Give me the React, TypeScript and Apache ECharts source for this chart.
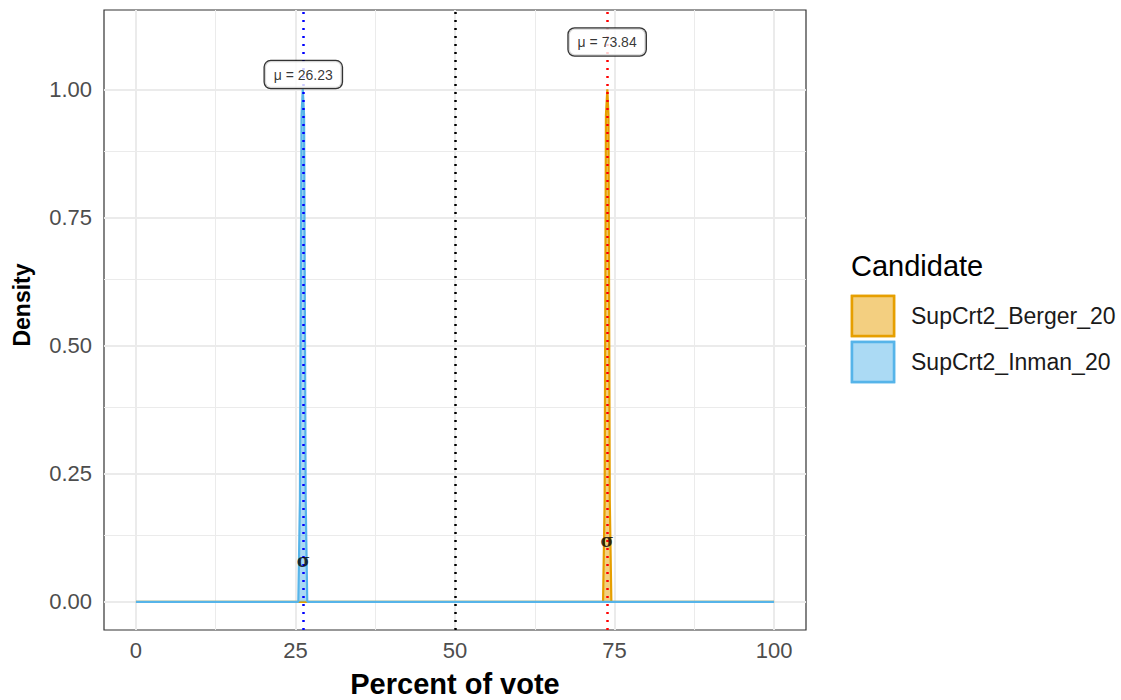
import React, { useEffect, useRef } from "react";
import * as echarts from "echarts";

// ---- data ----
const candidates = ["SupCrt2_Berger_20", "SupCrt2_Inman_20"];
const bergerX = [0, 73.2, 73.45, 73.65, 73.87, 74.05, 74.25, 74.5, 100];
const bergerY = [0, 0, 0.2, 0.95, 1.0, 0.95, 0.2, 0, 0];
const inmanX = [0, 25.45, 25.7, 25.95, 26.15, 26.35, 26.6, 26.85, 100];
const inmanY = [0, 0, 0.2, 0.95, 1.0, 0.95, 0.2, 0, 0];
const means = [73.84, 26.23];
const meanLabelY = [1.0925, 1.029];
const sigmaY = [0.12, 0.08];
const midLine = 50;
const xTicks = [0, 25, 50, 75, 100];
const xMinor = [12.5, 37.5, 62.5, 87.5];
const yTicks = [0, 0.25, 0.5, 0.75, 1.0];
const yMinor = [0.125, 0.375, 0.625, 0.875];

const FONT = '"Liberation Sans", Arial, Helvetica, sans-serif';
const lineColors = ["#E69F00", "#56B4E9"];
const meanColors = ["#ff0000", "#0000ff"];

export default function App() {
  const ref = useRef<HTMLDivElement>(null);
  useEffect(() => {
    if (!ref.current) return;
    const chart = echarts.init(ref.current, undefined, { renderer: "svg" });
    const toPairs = (xs: number[], ys: number[]) => xs.map((x, i) => [x, ys[i]]);
    const densities = [toPairs(bergerX, bergerY), toPairs(inmanX, inmanY)];

    const gridSeries: any = {
      type: "line",
      data: [],
      z: 1,
      silent: true,
      markLine: {
        z: 1,
        silent: true,
        symbol: "none",
        label: { show: false },
        animation: false,
        data: [
          ...xMinor.map((v) => ({ xAxis: v, lineStyle: { color: "#ebebeb", width: 1, type: "solid" } })),
          ...yMinor.map((v) => ({ yAxis: v, lineStyle: { color: "#ebebeb", width: 1, type: "solid" } })),
          ...xTicks.map((v) => ({ xAxis: v, lineStyle: { color: "#ebebeb", width: 2, type: "solid" } })),
          ...yTicks.map((v) => ({ yAxis: v, lineStyle: { color: "#ebebeb", width: 2, type: "solid" } })),
        ],
      },
    };

    const densitySeries = densities.map((d, i) => ({
      type: "line",
      name: candidates[i],
      data: d,
      z: 2 + i,
      showSymbol: false,
      symbol: "none",
      lineStyle: { color: lineColors[i], width: 2.2 },
      areaStyle: { color: lineColors[i], opacity: 0.5 },
      silent: true,
    }));

    const meanSeries: any = {
      type: "line",
      data: [],
      z: 6,
      silent: true,
      markLine: {
        z: 6,
        silent: true,
        symbol: "none",
        label: { show: false },
        animation: false,
        data: [
          { xAxis: midLine, lineStyle: { color: "#000000", width: 2.5, type: [2, 6] } },
          ...means.map((m, i) => ({ xAxis: m, lineStyle: { color: meanColors[i], width: 2.5, type: [2, 6] } })),
        ],
      },
    };

    const labelSeries: any = {
      type: "scatter",
      z: 10,
      symbolSize: 0,
      silent: true,
      data: means.map((m, i) => ({
        value: [m, meanLabelY[i]],
        label: {
          show: true,
          position: "inside",
          formatter: "μ = " + m.toFixed(2),
          fontFamily: FONT,
          fontSize: 14,
          color: "#000",
          backgroundColor: "#ffffff",
          borderColor: "#000000",
          borderWidth: 1.3,
          borderRadius: 6,
          padding: [7, 9, 6, 9],
        },
      })),
    };

    const sigmaSeries: any = {
      type: "scatter",
      z: 9,
      symbolSize: 0,
      silent: true,
      data: means.map((m, i) => ({
        value: [m, sigmaY[i]],
        label: {
          show: true,
          position: "inside",
          formatter: "σ",
          fontFamily: '"DejaVu Serif", "Liberation Serif", serif',
          fontWeight: "bold",
          fontSize: 18,
          color: "#000",
        },
      })),
    };

    const legendGraphics: any[] = [
      {
        type: "text",
        left: 851,
        top: 251,
        style: { text: "Candidate", font: `29px ${FONT}`, fill: "#000" },
      },
    ];
    candidates.forEach((c, i) => {
      const top = 296 + i * 46;
      legendGraphics.push({
        type: "rect",
        shape: { x: 852, y: top, width: 42, height: 40 },
        style: { fill: lineColors[i], opacity: 1, stroke: lineColors[i], lineWidth: 2.5 },
        z: 1,
      });
      legendGraphics.push({
        type: "rect",
        shape: { x: 852, y: top, width: 42, height: 40 },
        style: { fill: "rgba(255,255,255,0.5)", stroke: lineColors[i], lineWidth: 2.5 },
        z: 2,
      });
      legendGraphics.push({
        type: "text",
        x: 911,
        y: top + 20,
        style: { text: c, font: `23px ${FONT}`, fill: "#1a1a1a", verticalAlign: "middle" },
        z: 3,
      });
    });

    chart.setOption({
      animation: false,
      backgroundColor: "#ffffff",
      grid: {
        left: 104,
        top: 10,
        width: 702,
        height: 620,
        show: true,
        borderColor: "#333333",
        borderWidth: 1.2,
        backgroundColor: "#ffffff",
        z: 0,
      },
      xAxis: {
        type: "value",
        min: -5,
        max: 105,
        splitLine: { show: false },
        axisLine: { show: false },
        axisTick: { show: true, length: 5, lineStyle: { color: "#333", width: 1.5 }, customValues: xTicks },
        axisLabel: {
          customValues: xTicks,
          fontFamily: FONT,
          fontSize: 22,
          color: "#4d4d4d",
          margin: 9,
        },
      },
      yAxis: {
        type: "value",
        min: -0.055,
        max: 1.155,
        splitLine: { show: false },
        axisLine: { show: false },
        axisTick: { show: true, length: 5, lineStyle: { color: "#333", width: 1.5 }, customValues: yTicks },
        axisLabel: {
          customValues: yTicks,
          fontFamily: FONT,
          fontSize: 22,
          color: "#4d4d4d",
          margin: 12,
          formatter: (v: number) => v.toFixed(2),
        },
      },
      graphic: [
        {
          type: "text",
          x: 455,
          y: 684,
          style: {
            text: "Percent of vote",
            font: `bold 29px ${FONT}`,
            fill: "#000",
            align: "center",
            verticalAlign: "middle",
          },
        },
        {
          type: "text",
          x: 22,
          y: 305,
          rotation: Math.PI / 2,
          style: {
            text: "Density",
            font: `bold 23px ${FONT}`,
            fill: "#000",
            align: "center",
            verticalAlign: "middle",
          },
        },
        ...legendGraphics,
      ],
      series: [gridSeries, ...densitySeries, meanSeries, sigmaSeries, labelSeries],
    });
    return () => chart.dispose();
  }, []);
  return <div ref={ref} style={{ width: 1121, height: 700, position: "absolute", left: 0, top: 0 }} />;
}
